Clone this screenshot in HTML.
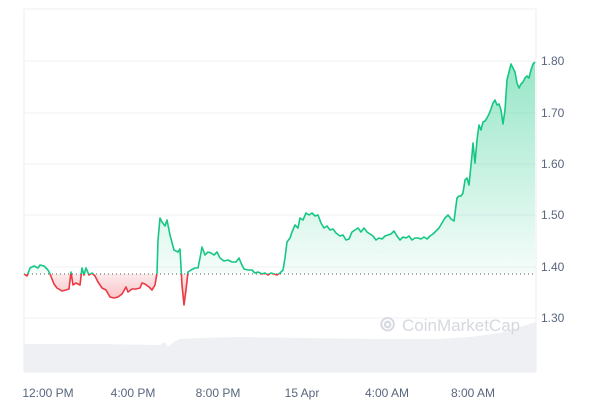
<!DOCTYPE html>
<html><head><meta charset="utf-8"><style>
html,body{margin:0;padding:0;background:#fff;}
svg{display:block;font-family:"Liberation Sans",sans-serif;}
</style></head><body>
<svg width="600" height="400" viewBox="0 0 600 400">
<defs>
<linearGradient id="gg" x1="0" y1="60" x2="0" y2="274" gradientUnits="userSpaceOnUse">
<stop offset="0" stop-color="#16c784" stop-opacity="0.45"/><stop offset="1" stop-color="#16c784" stop-opacity="0.04"/></linearGradient>
<linearGradient id="rg" x1="0" y1="274" x2="0" y2="305" gradientUnits="userSpaceOnUse">
<stop offset="0" stop-color="#ea3943" stop-opacity="0.1"/><stop offset="1" stop-color="#ea3943" stop-opacity="0.35"/></linearGradient>
<clipPath id="above"><rect x="0" y="0" width="600" height="274"/></clipPath>
<clipPath id="below"><rect x="0" y="274" width="600" height="126"/></clipPath>
<path id="ln" d="M24,274 L27,276 L30,268 L34,266 L38,268 L40,265 L44,266 L48,270 L50,274 L54,284 L57,288 L62,291 L66,290 L69,289 L71,272 L73,285 L76,283 L80,285 L82,268 L84,275 L86,268 L89,275 L92,273 L95,276 L98,282 L102,288 L106,290 L110,297 L114,298 L118,297 L122,294 L126,287 L128,292 L132,289 L136,289 L140,288 L142,283 L145,284 L149,287 L152,290 L155,285 L157,273 L158,240 L160,218 L162,222 L165,226 L167,220 L170,235 L174,250 L178,252 L180,249 L182,285 L184,305 L186,290 L188,272 L191,270 L195,268 L198,268 L200,258 L202,247 L205,255 L208,252 L211,253 L214,255 L217,252 L220,258 L224,261 L228,260 L232,262 L236,262 L239,258 L241,263 L244,269 L248,270 L252,270 L255,273 L258,272 L262,274 L265,273 L268,275 L271,273 L274,274 L277,275 L280,273 L283,270 L285,258 L287,242 L290,238 L292,232 L295,225 L298,228 L300,218 L303,220 L306,213 L309,215 L312,213 L315,216 L318,215 L321,223 L324,228 L327,226 L330,230 L333,229 L336,233 L340,236 L343,235 L346,240 L349,239 L352,232 L355,230 L358,228 L361,232 L364,228 L367,232 L370,234 L373,236 L376,240 L379,238 L382,239 L385,236 L388,235 L391,234 L394,231 L397,236 L400,240 L403,237 L406,238 L409,236 L412,240 L415,238 L418,238 L421,239 L424,237 L427,239 L430,236 L433,234 L436,231 L439,228 L442,223 L445,218 L448,215 L451,219 L454,221 L457,198 L459,196 L461,196 L463,193 L465,180 L467,178 L469,185 L472,155 L473,143 L475,163 L477,140 L479,125 L481,130 L483,122 L485,121 L487,118 L489,114 L491,109 L493,103 L495,100 L497,105 L499,104 L501,110 L503,124 L505,110 L507,80 L509,72 L511,64 L513,68 L515,72 L517,83 L519,88 L521,84 L523,82 L525,78 L527,76 L529,78 L531,70 L533,64 L535,62"/>
<path id="fl" d="M24,274 L27,276 L30,268 L34,266 L38,268 L40,265 L44,266 L48,270 L50,274 L54,284 L57,288 L62,291 L66,290 L69,289 L71,272 L73,285 L76,283 L80,285 L82,268 L84,275 L86,268 L89,275 L92,273 L95,276 L98,282 L102,288 L106,290 L110,297 L114,298 L118,297 L122,294 L126,287 L128,292 L132,289 L136,289 L140,288 L142,283 L145,284 L149,287 L152,290 L155,285 L157,273 L158,240 L160,218 L162,222 L165,226 L167,220 L170,235 L174,250 L178,252 L180,249 L182,285 L184,305 L186,290 L188,272 L191,270 L195,268 L198,268 L200,258 L202,247 L205,255 L208,252 L211,253 L214,255 L217,252 L220,258 L224,261 L228,260 L232,262 L236,262 L239,258 L241,263 L244,269 L248,270 L252,270 L255,273 L258,272 L262,274 L265,273 L268,275 L271,273 L274,274 L277,275 L280,273 L283,270 L285,258 L287,242 L290,238 L292,232 L295,225 L298,228 L300,218 L303,220 L306,213 L309,215 L312,213 L315,216 L318,215 L321,223 L324,228 L327,226 L330,230 L333,229 L336,233 L340,236 L343,235 L346,240 L349,239 L352,232 L355,230 L358,228 L361,232 L364,228 L367,232 L370,234 L373,236 L376,240 L379,238 L382,239 L385,236 L388,235 L391,234 L394,231 L397,236 L400,240 L403,237 L406,238 L409,236 L412,240 L415,238 L418,238 L421,239 L424,237 L427,239 L430,236 L433,234 L436,231 L439,228 L442,223 L445,218 L448,215 L451,219 L454,221 L457,198 L459,196 L461,196 L463,193 L465,180 L467,178 L469,185 L472,155 L473,143 L475,163 L477,140 L479,125 L481,130 L483,122 L485,121 L487,118 L489,114 L491,109 L493,103 L495,100 L497,105 L499,104 L501,110 L503,124 L505,110 L507,80 L509,72 L511,64 L513,68 L515,72 L517,83 L519,88 L521,84 L523,82 L525,78 L527,76 L529,78 L531,70 L533,64 L535,62 L535,274 L24,274 Z"/>
</defs>
<rect x="24" y="9" width="512" height="363" fill="none" stroke="#eceef2"/>
<g stroke="#eff1f4" stroke-width="1">
<line x1="24" y1="61" x2="536" y2="61"/><line x1="24" y1="113" x2="536" y2="113"/>
<line x1="24" y1="164" x2="536" y2="164"/><line x1="24" y1="215" x2="536" y2="215"/>
<line x1="24" y1="267" x2="536" y2="267"/><line x1="24" y1="318" x2="536" y2="318"/>
</g>
<polygon fill="#eef0f3" points="24,344 100,344 160,345 165,342 168,347 175,341 180,339 200,338 240,337 300,338 380,339 440,339 470,337 500,333 520,327 536,322 536,372 24,372"/>
<use href="#fl" fill="url(#gg)" clip-path="url(#above)"/>
<use href="#fl" fill="url(#rg)" clip-path="url(#below)"/>
<text x="380" y="331" font-size="19" fill="#d5d9df" font-weight="bold">⦾</text>
<text x="402" y="331" font-size="17" fill="#d5d9df">CoinMarketCap</text>
<line x1="24" y1="274" x2="536" y2="274" stroke="#555" stroke-width="1" stroke-dasharray="1,3"/>
<use href="#ln" fill="none" stroke="#16c784" stroke-width="1.6" stroke-linejoin="round" clip-path="url(#above)"/>
<use href="#ln" fill="none" stroke="#ea3943" stroke-width="1.6" stroke-linejoin="round" clip-path="url(#below)"/>
<g font-size="12" fill="#58667e">
<text x="541" y="65">1.80</text><text x="541" y="117">1.70</text><text x="541" y="168">1.60</text>
<text x="541" y="219">1.50</text><text x="541" y="271">1.40</text><text x="541" y="322">1.30</text>
</g>
<g font-size="12" fill="#58667e" text-anchor="middle">
<text x="48" y="397">12:00 PM</text><text x="133" y="397">4:00 PM</text><text x="218" y="397">8:00 PM</text>
<text x="302" y="397">15 Apr</text><text x="387" y="397">4:00 AM</text><text x="473" y="397">8:00 AM</text>
</g>
</svg>
</body></html>
